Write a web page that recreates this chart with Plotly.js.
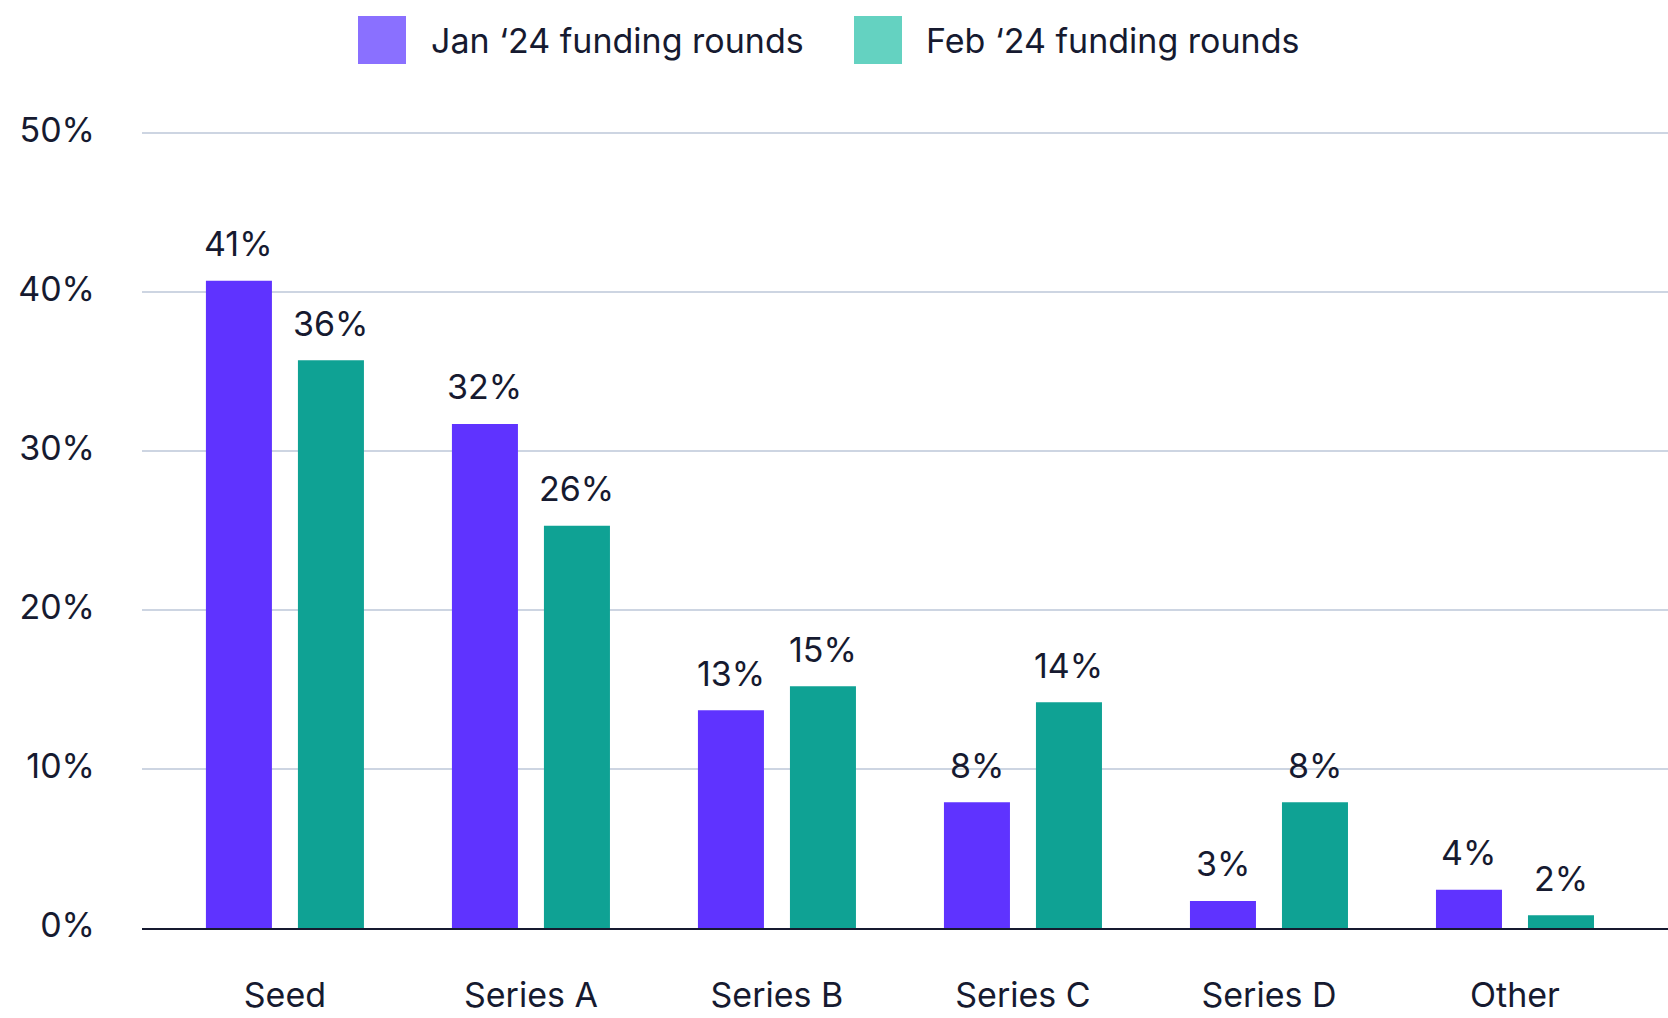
<!DOCTYPE html>
<html>
<head>
<meta charset="utf-8">
<script src="https://cdn.plot.ly/plotly-3.0.1.min.js"></script>
<style>
  html, body { margin: 0; padding: 0; background: #ffffff; }
  #chart { width: 1668px; height: 1018px; }
</style>
</head>
<body>
<div id="chart"></div>
<script>
// ---- data ----
const categories = ['Seed', 'Series A', 'Series B', 'Series C', 'Series D', 'Other'];
const seriesNames = ['Jan \u201824 funding rounds', 'Feb \u201824 funding rounds'];
const janValues = [40.7, 31.7, 13.7, 7.9, 1.7, 2.4];
const febValues = [35.7, 25.3, 15.2, 14.2, 7.9, 0.8];
const janLabels = ['41%', '32%', '13%', '8%', '3%', '4%'];
const febLabels = ['36%', '26%', '15%', '14%', '8%', '2%'];
const yTickVals = [0, 10, 20, 30, 40, 50];
const yTickText = ['0%', '10%', '20%', '30%', '40%', '50%'];

// ---- style ----
const W = 1668, H = 1018;
const M = { l: 142, r: 0, t: 117, b: 90 };
const plotW = W - M.l - M.r, plotH = H - M.t - M.b;
const textColor = '#161a30';
const barColors = ['#5f33ff', '#0fa294'];
const legendColors = ['#8a70ff', '#64d2c1'];
const FONT = 'Inter, "Noto Sans", sans-serif';
const FS = 34;
const bargap = 0.252, bargroupgap = 0.2826;
const labelOffset = (1 - bargap) / 4;

const fx = px => (px - M.l) / plotW;
const fy = py => (H - M.b - py) / plotH;

const traces = [
  { type: 'bar', name: seriesNames[0], x: categories, y: janValues,
    marker: { color: barColors[0] }, hoverinfo: 'x+y' },
  { type: 'bar', name: seriesNames[1], x: categories, y: febValues,
    marker: { color: barColors[1] }, hoverinfo: 'x+y' }
];

const annotations = [];
categories.forEach((c, i) => {
  annotations.push({ x: i - labelOffset, y: janValues[i], xref: 'x', yref: 'y',
    text: janLabels[i], showarrow: false, xanchor: 'center', yanchor: 'middle', yshift: 37,
    font: { family: FONT, size: FS, color: textColor } });
  annotations.push({ x: i + labelOffset, y: febValues[i], xref: 'x', yref: 'y',
    text: febLabels[i], showarrow: false, xanchor: 'center', yanchor: 'middle', yshift: 37,
    font: { family: FONT, size: FS, color: textColor } });
});

// custom legend (large swatches)
const legendSwatchX = [358, 854];
const legendTextX = [429, 924];
const shapes = [];
seriesNames.forEach((n, k) => {
  shapes.push({ type: 'rect', xref: 'paper', yref: 'paper',
    x0: fx(legendSwatchX[k]), x1: fx(legendSwatchX[k] + 48), y0: fy(64), y1: fy(16),
    fillcolor: legendColors[k], line: { width: 0 } });
  annotations.push({ xref: 'paper', yref: 'paper', x: fx(legendTextX[k]), y: fy(40),
    text: n, showarrow: false, xanchor: 'left', yanchor: 'middle',
    font: { family: FONT, size: FS, color: textColor } });
});

const layout = {
  width: W, height: H,
  margin: M,
  paper_bgcolor: '#ffffff', plot_bgcolor: '#ffffff',
  font: { family: FONT, size: FS, color: textColor },
  showlegend: false,
  barmode: 'group', bargap: bargap, bargroupgap: bargroupgap,
  xaxis: {
    type: 'category', range: [-0.581, 5.622],
    showgrid: false, zeroline: false,
    showline: true, linecolor: textColor, linewidth: 2,
    ticks: '', ticklabelstandoff: 36,
    tickfont: { family: FONT, size: FS, color: textColor },
    fixedrange: true
  },
  yaxis: {
    range: [0, 51],
    tickmode: 'array', tickvals: yTickVals, ticktext: yTickText,
    showgrid: true, gridcolor: '#cdd5e2', gridwidth: 2,
    zeroline: false, showline: false,
    ticks: '', ticklabelstandoff: 46, ticklabelshift: -3,
    tickfont: { family: FONT, size: FS, color: textColor },
    fixedrange: true
  },
  annotations: annotations,
  shapes: shapes
};

Plotly.newPlot('chart', traces, layout, { displayModeBar: false, staticPlot: true });
</script>
</body>
</html>
